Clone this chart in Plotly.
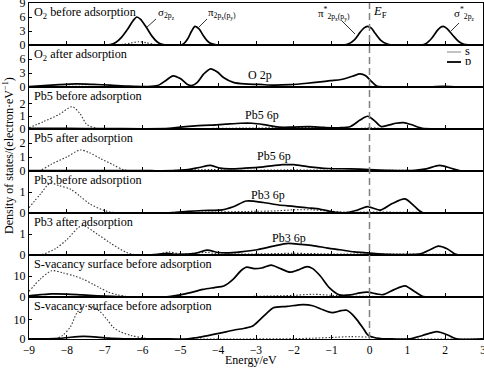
import plotly.graph_objects as go
from plotly.subplots import make_subplots

# ---------------- data (energy in eV, DOS in electron/eV) ----------------
panel_names = ["O<sub>2</sub> before adsorption", "O<sub>2</sub> after adsorption",
               "Pb5 before adsorption", "Pb5 after adsorption",
               "Pb3 before adsorption", "Pb3 after adsorption",
               "S-vacancy surface before adsorption", "S-vacancy surface before adsorption"]
y_ranges = [[0, 9], [0, 9], [0, 3.3], [0, 3], [0, 2], [0, 2], [0, 20], [0, 21.5]]
y_ticks = [[0, 3, 6, 9], [0, 3, 6], [0, 1, 2], [0, 1, 2], [0, 1], [0, 1], [0, 10], [0, 10]]
x_ticks = [-9, -8, -7, -6, -5, -4, -3, -2, -1, 0, 1, 2, 3]

# panel 1: O2 before adsorption
p1_e = [-9, -7.0, -6.85, -6.7, -6.55, -6.4, -6.25, -6.15, -6.05, -5.9, -5.75, -5.6, -5.45, -5.2,
        -5.0, -4.9, -4.8, -4.7, -4.61, -4.5, -4.4, -4.3, -4.2, -4.05, -3.8,
        -0.7, -0.55, -0.4, -0.25, -0.15, -0.06, 0.05, 0.15, 0.3, 0.45, 0.6,
        1.35, 1.5, 1.65, 1.8, 1.88, 1.95, 2.05, 2.2, 2.35, 2.5, 3]
p1_v = [0, 0, 0.08, 0.6, 1.7, 3.3, 5.2, 6.0, 5.5, 3.8, 1.9, 0.6, 0.08, 0,
        0, 0.35, 1.4, 3.0, 4.0, 3.4, 2.1, 1.0, 0.35, 0.03, 0,
        0, 0.25, 1.1, 2.7, 3.6, 4.0, 3.6, 2.5, 1.0, 0.25, 0,
        0, 0.35, 1.5, 3.2, 3.8, 4.0, 3.5, 2.1, 0.8, 0.12, 0]
s1_e = [-9, -6.8, -6.5, -6.3, -6.1, -5.9, -5.7, -5.4, 3]
s1_v = [0, 0, 0.15, 0.45, 0.7, 0.5, 0.15, 0, 0]

# panel 2: O2 after adsorption
p2_e = [-9, -8.6, -8.2, -7.75, -7.3, -6.86, -6.4, -5.9, -5.6, -5.38, -5.19, -5.0, -4.82, -4.7,
        -4.55, -4.38, -4.2, -4.02, -3.85, -3.6, -3.3, -2.9, -2.55, -2.1, -1.65, -1.3, -1.04,
        -0.75, -0.45, -0.25, -0.1, 0.05, 0.2, 0.4, 1.0, 1.6, 1.95, 2.3, 3]
p2_v = [0.1, 0.3, 0.5, 0.65, 0.55, 0.4, 0.2, 0.1, 0.3, 1.4, 2.4, 1.8, 0.6, 0.3,
        1.0, 2.8, 3.9, 3.2, 2.0, 1.0, 0.65, 0.55, 0.4, 0.5, 0.8, 1.1, 1.35,
        1.6, 2.3, 2.8, 2.4, 1.2, 0.15, 0.02, 0.02, 0.03, 0.12, 0.03, 0.02]
s2_e = [-9, -8.3, -7.8, -7.2, -6.5, -5.2, -4.2, -2.0, 0, 3]
s2_v = [0.02, 0.1, 0.15, 0.1, 0.03, 0.1, 0.12, 0.05, 0.05, 0.02]

# panel 3: Pb5 before adsorption
p3_e = [-9, -8, -7, -6, -5.3, -5.0, -4.6, -4.2, -3.8, -3.4, -3.1, -2.8, -2.4, -2.0, -1.6, -1.2,
        -0.8, -0.5, -0.25, -0.05, 0.15, 0.3, 0.5, 0.7, 0.9, 1.1, 1.4, 1.8, 3]
p3_v = [0.05, 0.05, 0.03, 0.02, 0.05, 0.15, 0.25, 0.3, 0.38, 0.45, 0.45, 0.35, 0.15, 0.15, 0.18, 0.12,
        0.1, 0.2, 0.7, 1.0, 0.6, 0.2, 0.3, 0.45, 0.5, 0.35, 0.05, 0.02, 0.02]
s3_e = [-9, -8.6, -8.2, -7.86, -7.65, -7.47, -7.2, -6.8, -5, -4, -3, -2, -1.5, -1.0, -0.2, 0, 0.3,
        1.0, 3]
s3_v = [0.1, 0.6, 1.15, 1.75, 1.2, 0.35, 0.05, 0.02, 0.02, 0.05, 0.08, 0.1, 0.12, 0.05, 0.05, 0.1,
        0.05, 0.03, 0.02]

# panel 4: Pb5 after adsorption
p4_e = [-9, -6, -5.2, -4.8, -4.5, -4.2, -3.95, -3.7, -3.3, -2.8, -2.3, -2.0, -1.6, -1.1, -0.5, 0,
        0.5, 1.2, 1.5, 1.85, 2.15, 2.4, 3]
p4_v = [0.02, 0.02, 0.03, 0.1, 0.25, 0.4, 0.2, 0.15, 0.2, 0.3, 0.45, 0.45, 0.3, 0.18, 0.15, 0.1,
        0.05, 0.05, 0.15, 0.4, 0.2, 0.02, 0.0]
s4_e = [-9, -8.7, -8.4, -8.0, -7.65, -7.4, -7.12, -6.78, -6.51, -6.3, -5.5, -4.2, -3.5, -2.0, -1.0,
        0, 3]
s4_v = [0.0, 0.05, 0.5, 1.0, 1.5, 1.3, 0.9, 0.45, 0.1, 0.02, 0.02, 0.1, 0.05, 0.08, 0.05, 0.05, 0.02]

# panel 5: Pb3 before adsorption
p5_e = [-9, -6, -5.2, -4.8, -4.4, -3.9, -3.6, -3.25, -2.8, -2.4, -2.0, -1.65, -1.3, -0.9, -0.6,
        -0.3, -0.05, 0.28, 0.6, 0.94, 1.2, 1.4, 3]
p5_v = [0.0, 0.0, 0.02, 0.08, 0.12, 0.15, 0.3, 0.57, 0.5, 0.38, 0.32, 0.25, 0.18, 0.03, 0.02,
        0.15, 0.3, 0.14, 0.45, 0.67, 0.3, 0.02, 0.0]
s5_e = [-9, -8.7, -8.44, -8.2, -7.9, -7.65, -7.39, -7.04, -6.78, -6, -5, -4, -3, -2.5, -2.0, -1.5,
        -1.0, -0.5, 0, 1, 3]
s5_v = [0.25, 0.9, 1.42, 1.3, 1.13, 0.8, 0.43, 0.14, 0.03, 0.02, 0.03, 0.05, 0.08, 0.1, 0.15,
        0.15, 0.08, 0.03, 0.05, 0.03, 0.02]

# panel 6: Pb3 after adsorption
p6_e = [-9, -6, -5.6, -5.35, -5.1, -4.6, -4.3, -4.0, -3.77, -3.4, -2.97, -2.54, -2.15, -1.8, -1.5,
        -1.1, -0.78, -0.4, -0.04, 0.5, 1.0, 1.34, 1.6, 1.82, 2.05, 2.3, 3]
p6_v = [0.0, 0.0, 0.03, 0.08, 0.03, 0.08, 0.23, 0.12, 0.1, 0.15, 0.25, 0.42, 0.55, 0.5, 0.45,
        0.33, 0.25, 0.15, 0.1, 0.03, 0.02, 0.05, 0.25, 0.42, 0.3, 0.02, 0.0]
s6_e = [-9, -8.7, -8.3, -8.0, -7.6, -7.2, -6.86, -6.42, -6.2, -5.6, -5.3, -5.0, -4.3, -4.0, -3,
        -2, -1, 0, 3]
s6_v = [0.0, 0.0, 0.3, 0.73, 1.4, 1.0, 0.58, 0.12, 0.02, 0.03, 0.15, 0.05, 0.12, 0.05, 0.05,
        0.08, 0.05, 0.05, 0.02]

# panel 7: S-vacancy surface before adsorption (1)
p7_e = [-9, -8.7, -8.4, -8.0, -7.6, -7.2, -6.8, -6.4, -5.8, -5.3, -5.0, -4.7, -4.4, -4.1, -3.85,
        -3.6, -3.4, -3.25, -3.05, -2.85, -2.6, -2.35, -2.1, -1.9, -1.65, -1.5, -1.3, -1.05, -0.8,
        -0.5, -0.25, -0.05, 0.35, 0.65, 0.94, 1.2, 1.42, 1.8, 3]
p7_v = [0.6, 1.1, 1.5, 1.4, 1.0, 0.6, 0.3, 0.1, 0.05, 0.2, 1.0, 2.2, 3.6, 4.5, 5.2,
        8.5, 12.5, 14.2, 13.5, 13.8, 15.2, 13.5, 11.8, 12.8, 14.5, 13.5, 10.0, 4.2, 1.0,
        1.0, 2.0, 2.3, 1.1, 3.5, 5.3, 2.5, 0.2, 0.05, 0.05]
s7_e = [-9, -8.7, -8.4, -8.1, -7.8, -7.57, -7.3, -7.12, -6.9, -6.67, -6.4, -6, -4, -3, -2, -1.5,
        -1.0, -0.5, 0, 0.5, 1, 2, 3]
s7_v = [2.7, 8.5, 12.5, 11.5, 10.0, 8.5, 6.0, 4.3, 2.3, 1.1, 0.2, 0.05, 0.1, 0.3, 0.8, 1.3,
        0.8, 0.3, 0.3, 0.1, 0.2, 0.1, 0.05]

# panel 8: S-vacancy surface before adsorption (2)
p8_e = [-9, -8.5, -8.2, -7.9, -7.57, -7.2, -6.9, -6.5, -5.5, -4.8, -4.47, -3.95, -3.6, -3.3,
        -3.1, -2.9, -2.7, -2.54, -2.18, -1.75, -1.5, -1.3, -0.99, -0.75, -0.6, -0.45, -0.33,
        -0.15, -0.04, 0.28, 0.6, 1.07, 1.4, 1.78, 2.05, 2.3, 3]
p8_v = [0.05, 0.1, 0.3, 0.9, 1.3, 1.0, 0.4, 0.1, 0.05, 0.1, 1.0, 3.0, 4.5, 5.5,
        6.5, 9.8, 13.5, 16.0, 16.7, 17.6, 17.0, 15.5, 13.5, 14.5, 14.7, 12.5, 9.8,
        5.0, 2.0, 0.2, 0.05, 0.1, 1.8, 3.8, 2.2, 0.1, 0.05]
s8_e = [-9, -8.3, -8.1, -7.9, -7.73, -7.55, -7.35, -7.12, -6.94, -6.78, -6.6, -6.3, -6.0, -5.8,
        -3, -2, -1.5, -1.0, -0.5, 0, 0.3, 0.6, 3]
s8_v = [0.05, 0.1, 2.0, 6.4, 13.5, 16.5, 16.7, 14.0, 10.0, 6.2, 3.8, 1.8, 0.6, 0.1,
        0.05, 0.2, 0.4, 0.8, 1.2, 0.9, 0.3, 0.05, 0.02]

p_e = [p1_e, p2_e, p3_e, p4_e, p5_e, p6_e, p7_e, p8_e]
p_v = [p1_v, p2_v, p3_v, p4_v, p5_v, p6_v, p7_v, p8_v]
s_e = [s1_e, s2_e, s3_e, s4_e, s5_e, s6_e, s7_e, s8_e]
s_v = [s1_v, s2_v, s3_v, s4_v, s5_v, s6_v, s7_v, s8_v]

inner_labels = ["O 2p", "Pb5 6p", "Pb5 6p", "Pb3 6p", "Pb3 6p"]

# ---------------- figure ----------------
W, H = 484, 368
ML, MR, MT, MB = 29, 1, 3, 29
PW, PH = W - ML - MR, H - MT - MB
FONT = "Liberation Serif"

def px_x(px):
    return (px - ML) / PW

def px_y(py):
    return (H - MB - py) / PH

inner_px = [(260, 75), (262, 115), (274, 156), (268, 195), (289, 238)]

fig = make_subplots(rows=8, cols=1, shared_xaxes=True, vertical_spacing=0)

for i in range(8):
    r = i + 1
    fig.add_trace(go.Scatter(x=s_e[i], y=s_v[i], mode="lines", name="s", showlegend=False,
                             line=dict(color="#333333", width=1.1, dash="1.5px,1.8px",
                                       shape="spline", smoothing=0.8)), row=r, col=1)
    fig.add_trace(go.Scatter(x=p_e[i], y=p_v[i], mode="lines", name="p", showlegend=False,
                             line=dict(color="black", width=1.7, shape="spline", smoothing=0.8)),
                  row=r, col=1)
    fig.update_yaxes(range=y_ranges[i], tickvals=y_ticks[i], row=r, col=1)
    fig.update_xaxes(range=[-9, 3], tickvals=x_ticks, row=r, col=1)
    yref = "y" if r == 1 else f"y{r}"
    xref = "x" if r == 1 else f"x{r}"
    fig.add_annotation(text=panel_names[i], xref=f"{xref} domain", yref=f"{yref} domain",
                       x=0.007, y=0.99, xanchor="left", yanchor="top", showarrow=False,
                       font=dict(family=FONT, size=12.2, color="black"))

for txt, (cx, cy) in zip(inner_labels, inner_px):
    fig.add_annotation(text=txt, xref="paper", yref="paper", x=px_x(cx), y=px_y(cy),
                       xanchor="center", yanchor="middle", showarrow=False,
                       font=dict(family=FONT, size=12, color="black"))

fig.update_xaxes(showline=True, linecolor="black", linewidth=1, mirror=True, automargin=False,
                 ticks="inside", ticklen=4, tickcolor="black", showgrid=False, zeroline=False,
                 showticklabels=False, ticklabeloverflow="allow",
                 tickfont=dict(family=FONT, size=11.5, color="black"))
fig.update_xaxes(showticklabels=True, tickformat="d", row=8, col=1)
fig.update_yaxes(showline=True, linecolor="black", linewidth=1, mirror=True, automargin=False,
                 ticks="inside", ticklen=3, tickcolor="black", showgrid=False, zeroline=False,
                 ticklabeloverflow="allow",
                 tickfont=dict(family=FONT, size=12, color="black"))

# Fermi level dashed line
fig.add_shape(type="line", xref="x", yref="paper", x0=0, x1=0, y0=0, y1=1,
              line=dict(color="#808080", width=1.5, dash="7px,4px"))

# top panel state labels
top_labels = [
    ("σ<sub>2p<sub>z</sub></sub>", 166, 14, (156, 19), (146, 28)),
    ("π<sub>2p<sub>x</sub>(p<sub>y</sub>)</sub>", 222, 14, (207, 19), (199, 27)),
    ("π<sup>*</sup><sub>2p<sub>x</sub>(p<sub>y</sub>)</sub>", 334, 14, (342, 21), (355, 34)),
    ("σ<sup>*</sup><sub>2p<sub>z</sub></sub>", 464, 14, (459, 23), (451, 31)),
]
for txt, cx, cy, (x0, y0), (x1, y1) in top_labels:
    fig.add_annotation(text=txt, xref="paper", yref="paper", x=px_x(cx), y=px_y(cy),
                       xanchor="center", yanchor="middle", showarrow=False,
                       font=dict(family=FONT, size=11, color="black"))
    fig.add_shape(type="line", xref="paper", yref="paper", x0=px_x(x0), y0=px_y(y0),
                  x1=px_x(x1), y1=px_y(y1), line=dict(color="black", width=0.8))
fig.add_annotation(text="<i>E</i><sub>F</sub>", xref="paper", yref="paper", x=px_x(371), y=px_y(12),
                   xanchor="left", yanchor="middle", showarrow=False,
                   font=dict(family=FONT, size=12.5, color="black"))

# legend (s / p)
for name, col, wdt, py in [("s", "#999999", 1.2, 52), ("p", "black", 1.8, 62)]:
    fig.add_shape(type="line", xref="paper", yref="paper", x0=px_x(447), x1=px_x(461),
                  y0=px_y(py), y1=px_y(py), line=dict(color=col, width=wdt))
    fig.add_annotation(text=name, xref="paper", yref="paper", x=px_x(463), y=px_y(py - 1),
                       xanchor="left", yanchor="middle", showarrow=False, height=8,
                       font=dict(family=FONT, size=12.5, color="black"))

# axis titles
fig.add_annotation(text="Energy/eV", xref="paper", yref="paper", x=px_x(251), y=px_y(360),
                   xanchor="center", yanchor="middle", showarrow=False,
                   font=dict(family=FONT, size=12, color="black"))
fig.add_annotation(text="Density of states/(electron·eV<sup>−1</sup>)", xref="paper", yref="paper",
                   x=px_x(8), y=px_y(156), xanchor="center", yanchor="middle", textangle=-90,
                   showarrow=False, font=dict(family=FONT, size=12, color="black"))

fig.update_layout(width=W, height=H, margin=dict(l=ML, r=MR, t=MT, b=MB, pad=0, autoexpand=False),
                  template="none", paper_bgcolor="white", plot_bgcolor="white",
                  showlegend=False, font=dict(family=FONT, size=12, color="black"))

fig.write_html("out.html", config={"displayModeBar": False},
               post_script="document.body.style.margin='0';")
